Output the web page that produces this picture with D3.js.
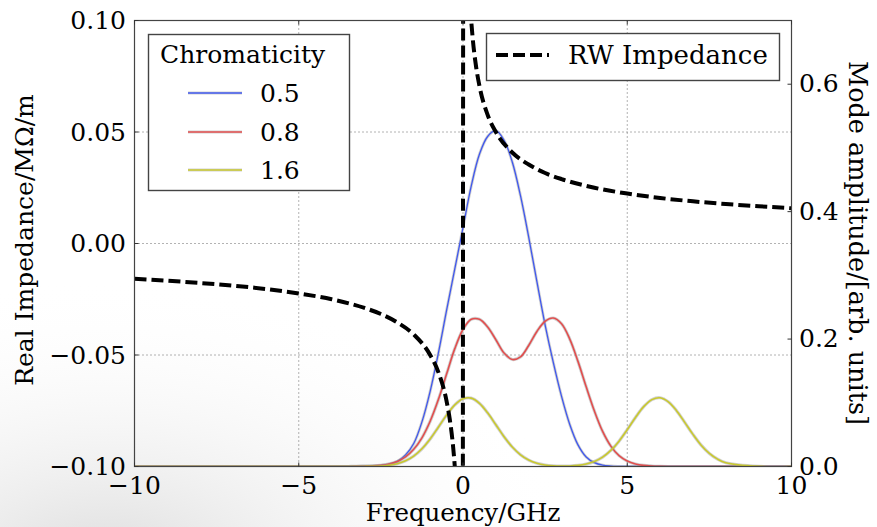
<!DOCTYPE html>
<html>
<head>
<meta charset="utf-8">
<script src="https://cdn.jsdelivr.net/npm/d3@7"></script>
<style>
  body { margin: 0; background: #fff; }
  svg { display: block; }
  text { font-family: "DejaVu Serif", "Liberation Serif", serif; fill: #000; }
</style>
</head>
<body>
<svg id="chart" width="877" height="527"></svg>
<script>
// Frequency grid (GHz) on which the mode spectra are sampled
const freq = [-10,-9,-8,-7,-6,-5,
  -4,-3.75,-3.5,-3.25,-3,-2.75,-2.5,-2.25,-2,-1.75,-1.5,-1.25,-1,-0.75,-0.5,-0.25,
  0,0.25,0.5,0.75,1,1.25,1.5,1.75,2,2.25,2.5,2.75,3,3.25,3.5,3.75,
  4,4.25,4.5,4.75,5,5.25,5.5,5.75,6,6.25,6.5,6.75,7,7.25,7.5,7.75,8,
  9,10];

// Mode amplitude (arb. units) for each chromaticity
const chromaLabels = ["0.5", "0.8", "1.6"];
const modeBlue = [0,0,0,0,0,0,
  0,0,0,0,0.0002,0.0006,0.0015,0.0035,0.008,0.018,0.036,0.07,0.118,0.178,0.245,0.31,
  0.375,0.44,0.49,0.518,0.527,0.512,0.478,0.425,0.36,0.29,0.222,0.163,0.11,0.066,0.034,0.015,
  0.006,0.002,0.0007,0.0002,0,0,0,0,0,0,0,0,0,0,0,0,0,
  0,0];
const modeRed = [0,0,0,0,0,0,
  0,0,0,0.0002,0.0005,0.001,0.002,0.004,0.008,0.015,0.027,0.045,0.071,0.105,0.145,0.185,
  0.215,0.231,0.231,0.219,0.199,0.178,0.168,0.172,0.19,0.212,0.228,0.233,0.224,0.2,0.165,0.125,
  0.087,0.055,0.032,0.017,0.0085,0.004,0.0018,0.0008,0.0003,0,0,0,0,0,0,0,0,
  0,0];
const modeYellow = [0,0,0,0,0,0,
  0,0,0,0,0.0001,0.0003,0.0008,0.002,0.0044,0.0089,0.0164,0.0278,0.0432,0.0617,0.0806,0.0967,
  0.1063,0.1073,0.0992,0.0842,0.0655,0.0467,0.0306,0.0184,0.0101,0.0051,0.0024,0.0011,0.0007,0.0008,0.0017,0.0038,
  0.0078,0.0146,0.0252,0.0398,0.0578,0.0769,0.0939,0.105,0.1079,0.1015,0.0876,0.0693,0.0504,0.0335,0.0205,0.0115,0.0059,
  0.0002,0];

// Resistive-wall impedance, real part (MΩ/m)
const rwFreq = [-10,-9,-8,-7,-6,-5,-4,-3,-2.5,-2,-1.5,-1,-0.75,-0.5,-0.4,-0.3,-0.25,-0.2,-0.02,
                0.02,0.2,0.25,0.3,0.4,0.5,0.75,1,1.5,2,2.5,3,4,5,6,7,8,9,10];
const rwZ = [-0.0158,-0.0167,-0.0177,-0.0189,-0.0204,-0.0224,-0.025,-0.0289,-0.0316,-0.0354,-0.0408,-0.05,
             -0.0577,-0.0707,-0.0791,-0.0913,-0.1,-0.1118,-0.354,
             0.354,0.1118,0.1,0.0913,0.0791,0.0707,0.0577,0.05,0.0408,0.0354,0.0316,0.0289,0.025,0.0224,
             0.0204,0.0189,0.0177,0.0167,0.0158];

// Tick values
const xTicks = [-10, -5, 0, 5, 10];
const yLeftTicks = [-0.10, -0.05, 0.00, 0.05, 0.10];
const yRightTicks = [0.0, 0.2, 0.4, 0.6];

const svg = d3.select("#chart");
const W = 877, H = 527;
const plot = { left: 134.5, right: 791.5, top: 20.5, bottom: 466.5 };

// faint grey haze in the lower-left corner of the figure
const defs = svg.append("defs");
const haze = defs.append("radialGradient").attr("id", "haze")
  .attr("cx", 0.12).attr("cy", 1.08).attr("r", 0.55);
haze.append("stop").attr("offset", "0").attr("stop-color", "#dcdcdc").attr("stop-opacity", 1);
haze.append("stop").attr("offset", "1").attr("stop-color", "#ffffff").attr("stop-opacity", 0);
svg.append("rect").attr("width", W).attr("height", H).attr("fill", "#fff");
svg.append("rect").attr("width", W).attr("height", H).attr("fill", "url(#haze)");

defs.append("clipPath").attr("id", "clip")
  .append("rect").attr("x", plot.left).attr("y", plot.top)
  .attr("width", plot.right - plot.left).attr("height", plot.bottom - plot.top);

const x = d3.scaleLinear().domain([-10, 10]).range([plot.left, plot.right]);
const yL = d3.scaleLinear().domain([-0.1, 0.1]).range([plot.bottom, plot.top]);
const yR = d3.scaleLinear().domain([0, 0.7]).range([plot.bottom, plot.top]);

// dotted grid
const grid = svg.append("g").attr("stroke", "#666").attr("stroke-width", 1)
  .attr("stroke-dasharray", "1,3");
xTicks.filter(t => t > -10 && t < 10).forEach(t => {
  grid.append("line").attr("x1", x(t)).attr("x2", x(t)).attr("y1", plot.top).attr("y2", plot.bottom);
});
yLeftTicks.filter(t => t > -0.1 && t < 0.1).forEach(t => {
  grid.append("line").attr("x1", plot.left).attr("x2", plot.right).attr("y1", yL(t)).attr("y2", yL(t));
});

// mode spectra (right axis)
const series = [
  { values: modeBlue, color: "#4058ee", width: 1.3 },
  { values: modeRed, color: "#e24e4e", width: 1.6 },
  { values: modeYellow, color: "#c9c92e", width: 1.6 }
];
const lines = svg.append("g").attr("clip-path", "url(#clip)");
series.forEach(s => {
  const pts = freq.map((f, i) => [f, s.values[i]]);
  const gen = d3.line().x(d => x(d[0])).y(d => yR(d[1])).curve(d3.curveCatmullRom.alpha(0.5));
  lines.append("path").attr("d", gen(pts)).attr("fill", "none")
    .attr("stroke", "#999").attr("stroke-opacity", 0.45).attr("stroke-width", s.width + 1.6);
  lines.append("path").attr("d", gen(pts)).attr("fill", "none")
    .attr("stroke", s.color).attr("stroke-width", s.width);
});

// RW impedance (left axis)
const rwPts = rwFreq.map((f, i) => [f, rwZ[i]]);
lines.append("path")
  .attr("d", d3.line().x(d => x(d[0])).y(d => yL(d[1])).curve(d3.curveMonotoneX)(rwPts))
  .attr("fill", "none").attr("stroke", "#000").attr("stroke-width", 4)
  .attr("stroke-dasharray", "12,5");

// frame
svg.append("rect").attr("x", plot.left).attr("y", plot.top)
  .attr("width", plot.right - plot.left).attr("height", plot.bottom - plot.top)
  .attr("fill", "none").attr("stroke", "#444").attr("stroke-width", 1.2);

// ticks (inward) and labels
const tk = svg.append("g").attr("stroke", "#333").attr("stroke-width", 1);
const fmt2 = d3.format(".2f"), fmt1 = d3.format(".1f");
const minus = s => s.replace("-", "\u2212");

xTicks.forEach(t => {
  tk.append("line").attr("x1", x(t)).attr("x2", x(t)).attr("y1", plot.bottom).attr("y2", plot.bottom - 4);
  tk.append("line").attr("x1", x(t)).attr("x2", x(t)).attr("y1", plot.top).attr("y2", plot.top + 4);
  svg.append("text").attr("x", x(t)).attr("y", 493.5).attr("text-anchor", "middle")
    .attr("font-size", 25).text(minus(String(t)));
});
yLeftTicks.forEach(t => {
  tk.append("line").attr("x1", plot.left).attr("x2", plot.left + 4).attr("y1", yL(t)).attr("y2", yL(t));
  svg.append("text").attr("x", 126).attr("y", yL(t) + 8.5).attr("text-anchor", "end")
    .attr("font-size", 25).text(minus(fmt2(t)));
});
yRightTicks.forEach(t => {
  tk.append("line").attr("x1", plot.right).attr("x2", plot.right - 4).attr("y1", yR(t)).attr("y2", yR(t));
  svg.append("text").attr("x", 799).attr("y", yR(t) + 8).attr("text-anchor", "start")
    .attr("font-size", 25).text(fmt1(t));
});

// axis titles
svg.append("text").attr("x", 463).attr("y", 521).attr("text-anchor", "middle")
  .attr("font-size", 24.5).text("Frequency/GHz");
svg.append("text").attr("transform", "translate(33,240) rotate(-90)").attr("text-anchor", "middle")
  .attr("font-size", 25).text("Real Impedance/M\u03A9/m");
svg.append("text").attr("transform", "translate(849,243) rotate(90)").attr("text-anchor", "middle")
  .attr("font-size", 25.5).text("Mode amplitude/[arb. units]");

// chromaticity legend
const lg = svg.append("g");
lg.append("rect").attr("x", 148.5).attr("y", 34.5).attr("width", 201).attr("height", 156)
  .attr("fill", "#fff").attr("stroke", "#444").attr("stroke-width", 1.4);
lg.append("text").attr("x", 160).attr("y", 63).attr("font-size", 25).text("Chromaticity");
const legY = [93, 132, 170];
series.forEach((s, i) => {
  lg.append("line").attr("x1", 188).attr("x2", 242).attr("y1", legY[i]).attr("y2", legY[i])
    .attr("stroke", "#999").attr("stroke-opacity", 0.45).attr("stroke-width", s.width + 1.6);
  lg.append("line").attr("x1", 188).attr("x2", 242).attr("y1", legY[i]).attr("y2", legY[i])
    .attr("stroke", s.color).attr("stroke-width", s.width);
  lg.append("text").attr("x", 260).attr("y", legY[i] + 9).attr("font-size", 25).text(chromaLabels[i]);
});

// RW impedance legend
const lg2 = svg.append("g");
lg2.append("rect").attr("x", 486.5).attr("y", 33.5).attr("width", 293).attr("height", 47)
  .attr("fill", "#fff").attr("stroke", "#444").attr("stroke-width", 1.4);
lg2.append("line").attr("x1", 496).attr("x2", 549).attr("y1", 55).attr("y2", 55)
  .attr("stroke", "#000").attr("stroke-width", 4).attr("stroke-dasharray", "12,5");
lg2.append("text").attr("x", 568).attr("y", 64).attr("font-size", 26).text("RW Impedance");
</script>
</body>
</html>
